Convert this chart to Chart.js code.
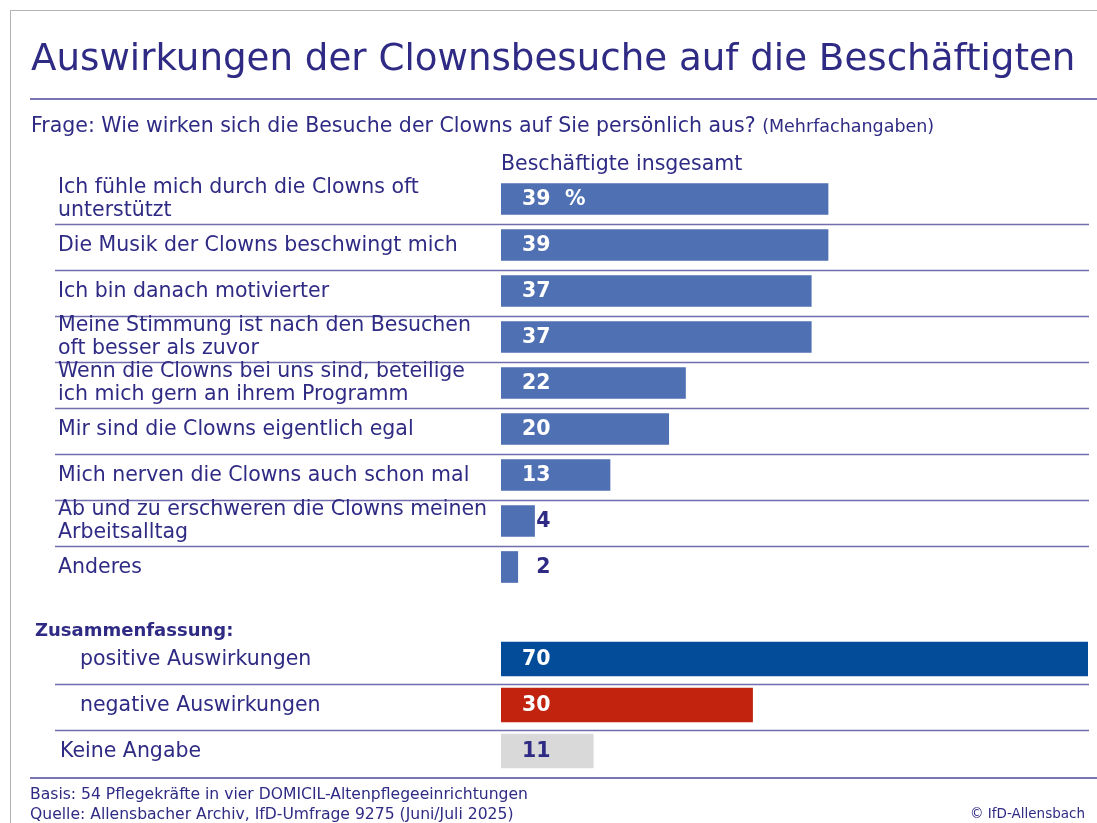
<!DOCTYPE html>
<html><head><meta charset="utf-8">
<script src="https://cdn.jsdelivr.net/npm/chart.js@4.4.1/dist/chart.umd.min.js"></script>
<style>
html,body{margin:0;padding:0;background:#fff;}
body{width:1097px;height:823px;position:relative;overflow:hidden;font-family:"DejaVu Sans",sans-serif;color:#2f2b84;}
.t{position:absolute;white-space:nowrap;line-height:1;}
#frame{position:absolute;left:10px;top:10px;width:1200px;height:1000px;border:1.5px solid #b3b3b3;}
.hl{position:absolute;height:2px;background:#7a76b3;}
#wrap{position:absolute;left:0;top:0;width:1097px;height:823px;}
</style></head>
<body>
<div id="frame"></div>
<div id="wrap"><canvas id="c" width="1097" height="823"></canvas></div>
<div class="t" id="title" style="left:31px;top:38.7px;font-size:37.2px;font-weight:normal;">Auswirkungen der Clownsbesuche auf die Beschäftigten</div>
<div class="hl" style="left:30px;top:97.5px;width:1070px;"></div>
<div class="t" style="left:31px;top:114.7px;font-size:20.5px;">Frage: Wie wirken sich die Besuche der Clowns auf Sie persönlich aus? <span style="font-size:17.5px;">(Mehrfachangaben)</span></div>
<div class="t" style="left:501px;top:152.7px;font-size:20.5px;">Beschäftigte insgesamt</div>
<div class="hl" style="left:30px;top:776.5px;width:1070px;"></div>
<div class="t" style="left:30px;top:787px;font-size:15.6px;">Basis: 54 Pflegekräfte in vier DOMICIL-Altenpflegeeinrichtungen</div>
<div class="t" style="left:30px;top:807px;font-size:15.6px;">Quelle: Allensbacher Archiv, IfD-Umfrage 9275 (Juni/Juli 2025)</div>
<div class="t" style="right:12px;top:807px;font-size:13.5px;">© IfD-Allensbach</div>
<script>
// ---- data ----
const categories = [
  ["Ich fühle mich durch die Clowns oft", "unterstützt"],
  "Die Musik der Clowns beschwingt mich",
  "Ich bin danach motivierter",
  ["Meine Stimmung ist nach den Besuchen", "oft besser als zuvor"],
  ["Wenn die Clowns bei uns sind, beteilige", "ich mich gern an ihrem Programm"],
  "Mir sind die Clowns eigentlich egal",
  "Mich nerven die Clowns auch schon mal",
  ["Ab und zu erschweren die Clowns meinen", "Arbeitsalltag"],
  "Anderes"
];
const detailValues = [39, 39, 37, 37, 22, 20, 13, 4, 2];
const summaryTitle = "Zusammenfassung:";
const summaryCategories = ["positive Auswirkungen", "negative Auswirkungen", "Keine Angabe"];
const summaryValues = [70, 30, 11];
const unitSuffix = "%";
const xMax = 70;

// ---- build ----
const TEXT = '#2f2b84';
const GREY = '#d9d9d9';
const allLabels = [...categories, summaryTitle, ...summaryCategories];
const nD = categories.length;
const pad = arr => arr.map(() => null);
const dataA = [...detailValues, null, ...pad(summaryCategories)];
const dataB = [...pad(categories), null, ...summaryValues];
const summaryColors = ['#024c9a', '#c1230f', GREY];
const colorsB = [...pad(categories).map(() => 'rgba(0,0,0,0)'), 'rgba(0,0,0,0)', ...summaryColors];

const overlay = {
  id: 'overlay',
  afterDatasetsDraw(chart) {
    const ctx = chart.ctx, ys = chart.scales.y, xs = chart.scales.x;
    const x0 = xs.getPixelForValue(0);
    ctx.save();
    // separators
    ctx.strokeStyle = '#726eae';
    ctx.lineWidth = 1.7;
    const sepAfter = [];
    for (let i = 0; i < nD - 1; i++) sepAfter.push(i);
    for (let j = 0; j < summaryCategories.length - 1; j++) sepAfter.push(nD + 1 + j);
    sepAfter.forEach(i => {
      const yy = Math.round((ys.getPixelForValue(i) + ys.getPixelForValue(i + 1)) / 2 + 2) + 0.5;
      ctx.beginPath(); ctx.moveTo(55, yy); ctx.lineTo(xs.right + 1, yy); ctx.stroke();
    });
    // row labels
    ctx.fillStyle = TEXT;
    ctx.textBaseline = 'middle';
    ctx.textAlign = 'left';
    allLabels.forEach((lab, i) => {
      const cy = ys.getPixelForValue(i);
      let lx = 58;
      ctx.font = '20.5px "DejaVu Sans"';
      if (i === nD) { ctx.font = 'bold 18px "DejaVu Sans"'; lx = 35; ctx.fillText(lab, lx, cy + 18); return; }
      if (i > nD && i < allLabels.length - 1) lx = 80;
      if (i === allLabels.length - 1) lx = 60;
      if (Array.isArray(lab)) {
        ctx.fillText(lab[0], lx, cy - 11.5);
        ctx.fillText(lab[1], lx, cy + 11.5);
      } else ctx.fillText(lab, lx, cy + 1);
    });
    // value labels
    ctx.font = 'bold 20.5px "DejaVu Sans"';
    ctx.textAlign = 'right';
    chart.data.datasets.forEach((ds, di) => {
      ds.data.forEach((v, i) => {
        if (v === null) return;
        const cy = ys.getPixelForValue(i);
        const w = xs.getPixelForValue(v) - x0;
        const bg = Array.isArray(ds.backgroundColor) ? ds.backgroundColor[i] : ds.backgroundColor;
        ctx.fillStyle = (w > 55 && bg !== GREY) ? '#ffffff' : TEXT;
        ctx.fillText(String(v), x0 + 49.5, cy + 1);
        if (di === 0 && i === 0) {
          ctx.textAlign = 'left';
          ctx.fillText(unitSuffix, x0 + 64, cy + 1);
          ctx.textAlign = 'right';
        }
      });
    });
    ctx.restore();
  }
};

new Chart(document.getElementById('c'), {
  type: 'bar',
  data: {
    labels: allLabels,
    datasets: [
      { data: dataA, backgroundColor: '#4f70b3', barThickness: 31, borderWidth: 0 },
      { data: dataB, backgroundColor: colorsB, barThickness: 34, borderWidth: 0 }
    ]
  },
  options: {
    responsive: false,
    animation: false,
    indexAxis: 'y',
    layout: { padding: { left: 501, right: 9, top: 176, bottom: 49 } },
    plugins: { legend: { display: false }, tooltip: { enabled: false }, title: { display: false } },
    datasets: { bar: { grouped: false, skipNull: true } },
    scales: {
      x: { display: false, min: 0, max: xMax },
      y: { display: false }
    }
  },
  plugins: [overlay]
});
</script>
</body></html>
